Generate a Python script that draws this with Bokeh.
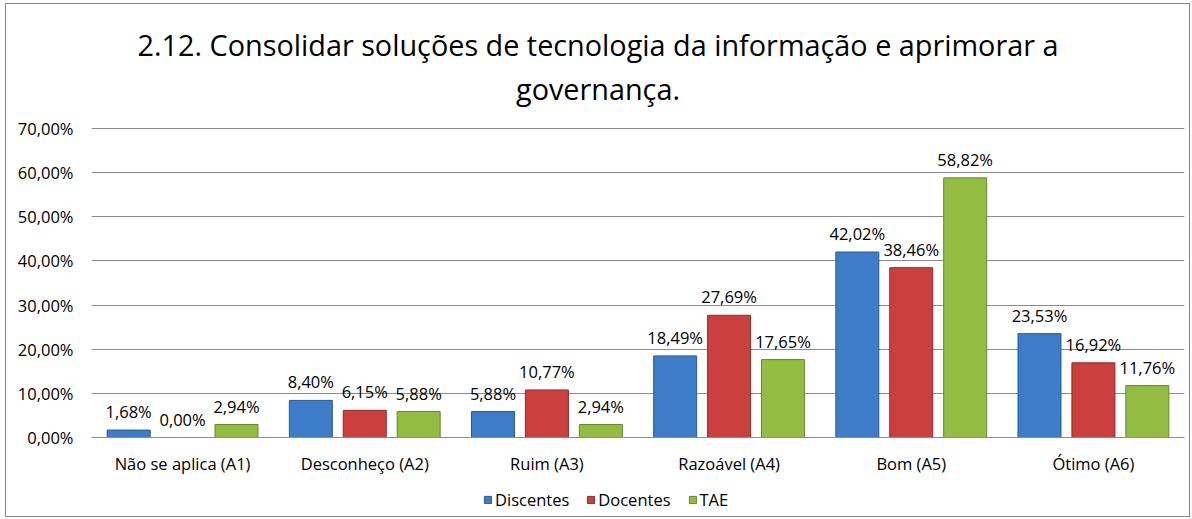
from bokeh.plotting import figure
from bokeh.models import (ColumnDataSource, FactorRange, Range1d, Legend, LegendItem, Label,
                          CustomJSTickFormatter, LabelSet)
from bokeh.transform import dodge
from bokeh.core.properties import value
from bokeh.embed import file_html
from bokeh.resources import INLINE

categories = ["Não se aplica (A1)", "Desconheço (A2)", "Ruim (A3)",
              "Razoável (A4)", "Bom (A5)", "Ótimo (A6)"]
series_names = ["Discentes", "Docentes", "TAE"]
discentes = [1.68, 8.40, 5.88, 18.49, 42.02, 23.53]
docentes = [0.00, 6.15, 10.77, 27.69, 38.46, 16.92]
tae = [2.94, 5.88, 2.94, 17.65, 58.82, 11.76]
y_ticks = [0, 10, 20, 30, 40, 50, 60, 70]
title_lines = ["2.12. Consolidar soluções de tecnologia da informação e aprimorar a",
               "governança."]

FONT = "Open Sans"
FS = "16.5px"

def fmt(v):
    return f"{v:.2f}".replace(".", ",") + "%"

source = ColumnDataSource(data=dict(
    cat=categories,
    disc=discentes, doc=docentes, tae=tae,
    disc_l=[fmt(v) for v in discentes],
    doc_l=[fmt(v) for v in docentes],
    tae_l=[fmt(v) for v in tae],
))

# plot area: 309 px for the 0..70 % scale, with room above (title) and below
# (category labels, legend) kept inside the frame so texts are not clipped
PX_SCALE = 309.0
TOP_PX, BOTTOM_PX = 124.0, 79.0
y_top = y_ticks[-1] + TOP_PX * y_ticks[-1] / PX_SCALE
y_bot = -BOTTOM_PX * y_ticks[-1] / PX_SCALE

p = figure(x_range=FactorRange(*categories, range_padding=0),
           y_range=Range1d(y_bot, y_top),
           frame_width=1093, frame_height=int(PX_SCALE + TOP_PX + BOTTOM_PX),
           output_backend="svg", toolbar_location=None,
           min_border_left=85, min_border_right=5,
           min_border_top=0, min_border_bottom=0)
p.title = None
p.styles = {"border": "1px solid #868686", "margin-left": "5px", "margin-top": "3px"}

# two-line title
n_cat = len(categories)
for line, off in zip(title_lines, [84, 40]):
    p.add_layout(Label(x=n_cat / 2, y=y_ticks[-1], x_units="data", y_units="data",
                       x_offset=-40, y_offset=off, text=line, text_align="center",
                       text_baseline="middle", text_font=FONT,
                       text_font_size="28.8px", text_color="#000000"))

colors = [("#3d7cc9", "#2b5a94"), ("#cc3f3f", "#8f2b2b"), ("#93bd42", "#66892c")]
cols = ["disc", "doc", "tae"]
lcols = ["disc_l", "doc_l", "tae_l"]
offsets = [-0.296, 0.0, 0.296]

renderers = []
for c, lc, off, (fc, lcolor) in zip(cols, lcols, offsets, colors):
    r = p.vbar(x=dodge("cat", off, range=p.x_range), top=c, width=0.236,
               source=source, fill_color=fc, line_color=lcolor, line_width=1)
    renderers.append(r)
    lab = LabelSet(x=dodge("cat", off, range=p.x_range), y=c, text=lc,
                   source=source, text_align="center", text_baseline="bottom",
                   y_offset=7, text_font=value(FONT), text_font_size=FS,
                   text_color="#000000")
    p.add_layout(lab)

# axes
p.yaxis.ticker = y_ticks
p.yaxis.formatter = CustomJSTickFormatter(
    code="return tick.toFixed(2).replace('.', ',') + '%';")
p.yaxis.axis_line_color = None
p.yaxis.major_tick_line_color = None
p.yaxis.minor_tick_line_color = None
p.yaxis.major_label_text_font = FONT
p.yaxis.major_label_text_font_size = FS
p.yaxis.major_label_text_color = "#000000"
p.yaxis.major_label_standoff = 12

p.xaxis.fixed_location = 0
p.xaxis.axis_line_color = "#8c8c8c"
p.xaxis.major_tick_line_color = None
p.xaxis.minor_tick_line_color = None
p.xaxis.major_tick_out = 0
p.xaxis.major_label_text_font = FONT
p.xaxis.major_label_text_font_size = FS
p.xaxis.major_label_text_color = "#000000"
p.xaxis.major_label_standoff = 14

p.xgrid.grid_line_color = None
p.ygrid.grid_line_color = "#8c8c8c"
p.ygrid.grid_line_width = 1
p.outline_line_color = None

legend = Legend(items=[LegendItem(label=n, renderers=[r])
                       for n, r in zip(series_names, renderers)],
                orientation="horizontal", location=(392, 5),
                label_text_font=FONT, label_text_font_size=FS,
                label_text_color="#000000",
                glyph_width=9, glyph_height=9, spacing=17,
                label_standoff=3, padding=0, margin=0,
                border_line_color=None, background_fill_alpha=0)
p.add_layout(legend, "center")

open("out.html", "w").write(file_html(p, INLINE))
